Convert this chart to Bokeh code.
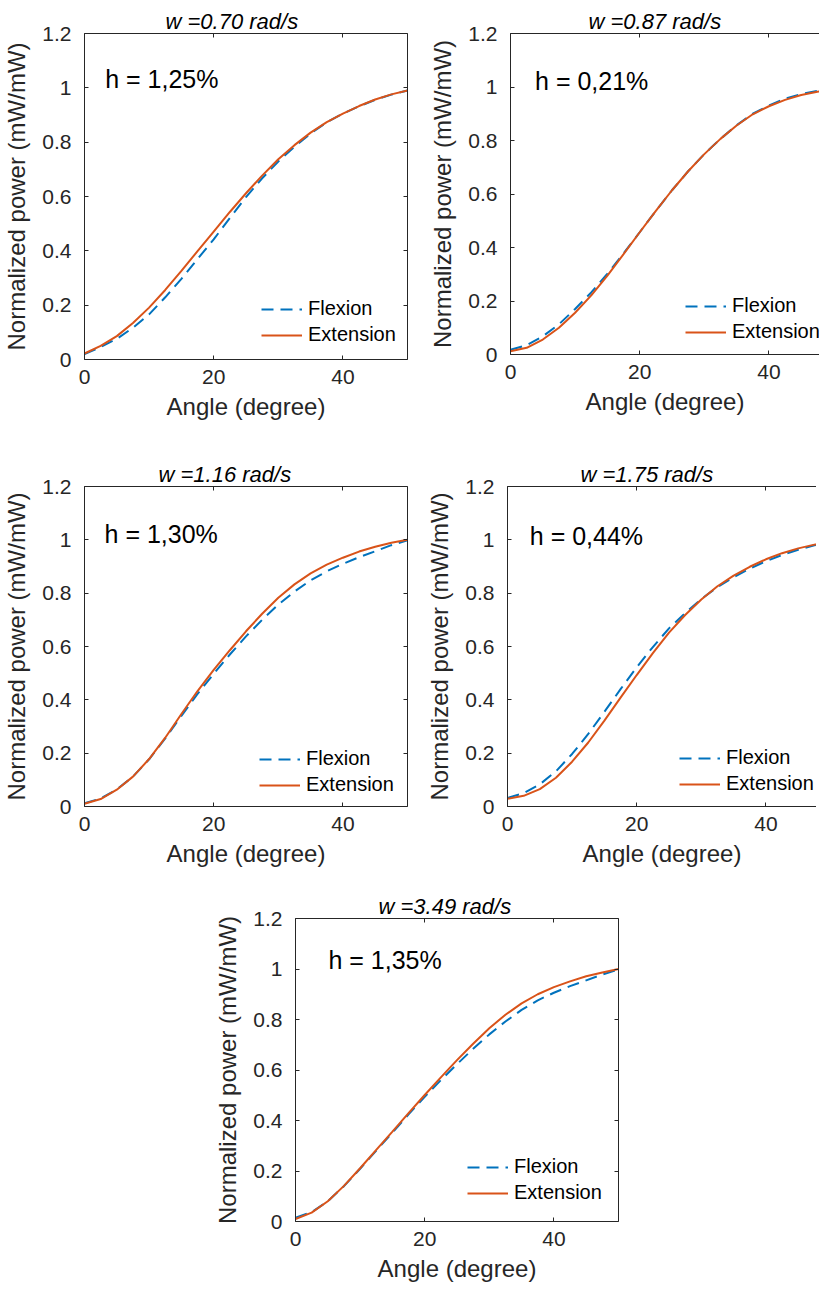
from bokeh.plotting import figure
from bokeh.models import Range1d, LinearAxis, FixedTicker, Label, Legend, LegendItem, Spacer
from bokeh.layouts import column, row
from bokeh.embed import file_html
from bokeh.resources import INLINE

# ---------------- data ----------------
angle = [0, 2.5, 5, 7.5, 10, 12.5, 15, 17.5, 20, 22.5, 25,
         27.5, 30, 32.5, 35, 37.5, 40, 42.5, 45, 47.5, 50]

flex_070 = [0.020, 0.046, 0.076, 0.117, 0.166, 0.229, 0.297, 0.370, 0.442, 0.521, 0.598,
            0.667, 0.729, 0.783, 0.832, 0.873, 0.905, 0.932, 0.956, 0.975, 0.990]
ext_070 = [0.022, 0.050, 0.086, 0.134, 0.191, 0.256, 0.326, 0.399, 0.471, 0.543, 0.612,
           0.677, 0.737, 0.789, 0.835, 0.874, 0.905, 0.933, 0.957, 0.976, 0.990]

flex_087 = [0.018, 0.035, 0.068, 0.113, 0.170, 0.232, 0.302, 0.378, 0.457, 0.537, 0.614,
            0.685, 0.749, 0.806, 0.857, 0.900, 0.931, 0.956, 0.974, 0.985, 0.992]
ext_087 = [0.0125, 0.025, 0.056, 0.100, 0.156, 0.221, 0.295, 0.375, 0.457, 0.537, 0.614,
           0.685, 0.749, 0.806, 0.856, 0.898, 0.928, 0.952, 0.970, 0.982, 0.990]

flex_116 = [0.012, 0.030, 0.064, 0.112, 0.177, 0.255, 0.340, 0.422, 0.498, 0.570, 0.638,
            0.700, 0.757, 0.806, 0.848, 0.882, 0.910, 0.935, 0.957, 0.980, 0.998]
ext_116 = [0.010, 0.028, 0.063, 0.112, 0.178, 0.258, 0.347, 0.433, 0.512, 0.586, 0.657,
           0.723, 0.783, 0.833, 0.874, 0.907, 0.933, 0.956, 0.974, 0.989, 1.000]

flex_175 = [0.032, 0.050, 0.083, 0.132, 0.197, 0.272, 0.355, 0.440, 0.522, 0.598, 0.668,
            0.725, 0.778, 0.823, 0.860, 0.892, 0.920, 0.943, 0.963, 0.980, 0.990]
ext_175 = [0.029, 0.040, 0.065, 0.108, 0.168, 0.240, 0.322, 0.408, 0.493, 0.575, 0.652,
           0.718, 0.776, 0.826, 0.866, 0.899, 0.927, 0.950, 0.968, 0.982, 0.992]

flex_349 = [0.015, 0.037, 0.080, 0.140, 0.209, 0.281, 0.352, 0.424, 0.494, 0.560, 0.623,
            0.684, 0.741, 0.792, 0.838, 0.876, 0.906, 0.932, 0.955, 0.978, 0.998]
ext_349 = [0.010, 0.035, 0.080, 0.141, 0.211, 0.284, 0.356, 0.429, 0.501, 0.571, 0.639,
           0.704, 0.765, 0.819, 0.864, 0.900, 0.928, 0.951, 0.971, 0.986, 1.000]

titles = ["w =0.70 rad/s", "w =0.87 rad/s", "w =1.16 rad/s", "w =1.75 rad/s", "w =3.49 rad/s"]
h_texts = ["h = 1,25%", "h = 0,21%", "h = 1,30%", "h = 0,44%", "h = 1,35%"]
series_names = ["Flexion", "Extension"]

x_ticks = [0, 20, 40]
x_tick_labels = ["0", "20", "40"]
y_ticks = [0, 0.2, 0.4, 0.6, 0.8, 1, 1.2]
y_tick_labels = ["0", "0.2", "0.4", "0.6", "0.8", "1", "1.2"]

x_label = "Angle (degree)"
y_label = "Normalized power (mW/mW)"

# ---------------- style ----------------
FONT = "Liberation Sans"
AXC = "#262626"
BLUE = "#0072BD"
ORANGE = "#D95319"


def style_axis(ax, ticks, labels, show):
    ax.ticker = FixedTicker(ticks=ticks)
    ax.minor_tick_line_color = None
    ax.major_tick_in = 4
    ax.major_tick_out = 0
    ax.axis_line_color = AXC
    ax.major_tick_line_color = AXC
    ax.major_label_text_font = FONT
    ax.major_label_text_color = AXC
    if show:
        ax.major_label_overrides = dict(zip(ticks, labels))
        ax.major_label_text_font_size = "21px"
    else:
        ax.major_label_overrides = {t: "" for t in ticks}
        ax.major_label_text_font_size = "0px"
        ax.major_label_standoff = 0


def make_panel(flex, ext, title, htext, cfg):
    p = figure(frame_width=cfg["fw"], frame_height=cfg["fh"],
               x_range=Range1d(0, cfg["xend"]), y_range=Range1d(0, 1.2),
               output_backend="svg", toolbar_location=None,
               x_axis_location=None, y_axis_location=None,
               min_border_left=cfg["bl"], min_border_right=cfg["br"],
               min_border_top=cfg["bt"], min_border_bottom=cfg["bb"])
    p.outline_line_color = None
    p.xgrid.visible = False
    p.ygrid.visible = False
    p.background_fill_color = "white"
    p.border_fill_color = "white"

    xb = LinearAxis(axis_label=x_label)
    style_axis(xb, x_ticks, x_tick_labels, True)
    xb.major_label_standoff = 10
    xb.axis_label_standoff = 6
    yl = LinearAxis(axis_label=y_label)
    style_axis(yl, y_ticks, y_tick_labels, True)
    yl.major_label_standoff = 13
    yl.axis_label_standoff = 9
    for ax in (xb, yl):
        ax.axis_label_text_font = FONT
        ax.axis_label_text_font_size = "24px"
        ax.axis_label_text_font_style = "normal"
        ax.axis_label_text_color = AXC
    p.add_layout(xb, "below")
    p.add_layout(yl, "left")

    xa = LinearAxis()
    style_axis(xa, x_ticks, x_tick_labels, False)
    p.add_layout(xa, "above")
    if cfg["right_box"]:
        yr = LinearAxis()
        style_axis(yr, y_ticks, y_tick_labels, False)
        p.add_layout(yr, "right")

    r1 = p.line(angle, flex, line_color=BLUE, line_width=2, line_dash="12 7")
    r2 = p.line(angle, ext, line_color=ORANGE, line_width=2)

    leg = Legend(items=[LegendItem(label=series_names[0], renderers=[r1]),
                        LegendItem(label=series_names[1], renderers=[r2])],
                 location=cfg["leg"], border_line_color=None, background_fill_alpha=0,
                 padding=7, spacing=3, margin=0, glyph_width=41, glyph_height=20,
                 label_height=20, label_standoff=6, label_text_font=FONT,
                 label_text_font_size="20px", label_text_color="black")
    p.add_layout(leg)

    p.add_layout(Label(x=cfg["hx"], y=cfg["hy"], text=htext, text_font=FONT,
                       text_font_size="25px", text_color="black",
                       text_baseline="alphabetic"))

    p.title.text = title
    p.title.align = "left"
    p.title.offset = cfg["toff"]
    p.title.standoff = 0
    p.title.text_font = FONT
    p.title.text_font_size = "22px"
    p.title.text_font_style = "italic"
    p.title.text_color = "black"
    return p


XEND_CUT = 47.83

cfgs = [
    dict(fw=323, fh=326, xend=50, bl=78, br=19, bt=31, bb=102, right_box=True,
         leg=(177, 13), hx=3.2, hy=1.034, toff=81),
    dict(fw=309, fh=321, xend=XEND_CUT, bl=83, br=0, bt=33, bb=105, right_box=False,
         leg=(175, 11), hx=3.8, hy=1.023, toff=78),
    dict(fw=323, fh=320, xend=50, bl=81, br=16, bt=24, bb=85, right_box=True,
         leg=(175, 10), hx=3.1, hy=1.023, toff=74),
    dict(fw=309, fh=320, xend=XEND_CUT, bl=83, br=0, bt=25, bb=84, right_box=False,
         leg=(172, 11), hx=3.45, hy=1.014, toff=73),
    dict(fw=323, fh=303, xend=50, bl=78, br=10, bt=24, bb=67, right_box=True,
         leg=(172, 17), hx=5.1, hy=1.034, toff=83),
]

flexes = [flex_070, flex_087, flex_116, flex_175, flex_349]
exts = [ext_070, ext_087, ext_116, ext_175, ext_349]

plots = [make_panel(flexes[i], exts[i], titles[i], h_texts[i], cfgs[i]) for i in range(5)]

layout = column(
    row(plots[0], plots[1]),
    row(plots[2], plots[3]),
    row(Spacer(width=211, height=10), plots[4]),
)

open("out.html", "w").write(file_html(layout, INLINE))
